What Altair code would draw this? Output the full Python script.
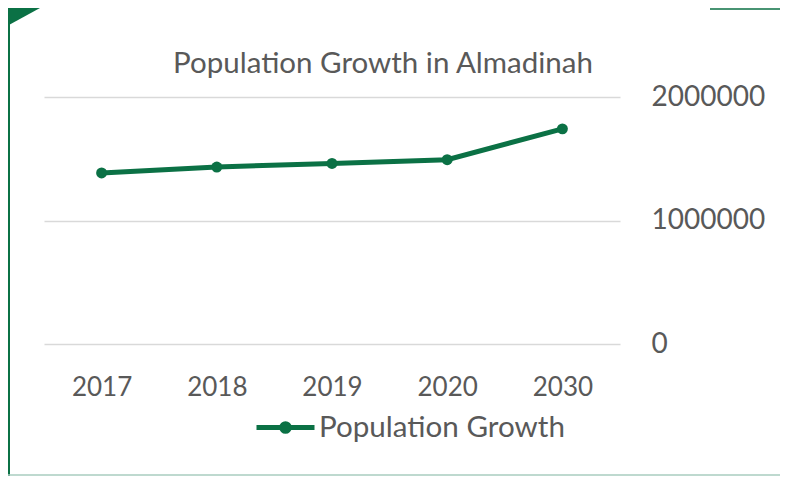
import altair as alt
import pandas as pd

# ---- data ----
years = ["2017", "2018", "2019", "2020", "2030"]
population = [1385000, 1433000, 1462000, 1492000, 1742000]
series_name = "Population Growth"
y_ticks = [0, 1000000, 2000000]
title_text = "Population Growth in Almadinah"

GREEN = "#0b7145"
TEXT = "#595959"
GRID = "#d9d9d9"
FONT = "Lato"

df = pd.DataFrame({
    "year": years,
    "population": population,
    "series": [series_name] * len(years),
})

legend_path = ("M-1,0H1M0.13,0A0.13,0.13,0,1,1,-0.13,0"
               "A0.13,0.13,0,1,1,0.13,0Z")

x_enc = alt.X("year:N", sort=years, title=None,
              scale=alt.Scale(padding=0.5),
              axis=alt.Axis(domain=False, ticks=False, tickSize=0, grid=False,
                            labelAngle=0, labelPadding=51,
                            labelBaseline="alphabetic", labelFontSize=26,
                            labelColor=TEXT, labelFont=FONT))
y_enc = alt.Y("population:Q", title=None,
              scale=alt.Scale(domain=[0, 2000000]),
              axis=alt.Axis(orient="right", values=y_ticks, format="d",
                            domain=False, ticks=False, tickSize=0,
                            labelPadding=31, labelAlign="left",
                            labelBaseline="middle", labelFontSize=28,
                            labelColor=TEXT, labelFont=FONT,
                            grid=True, gridColor=GRID, gridWidth=1.5))
color_enc = alt.Color("series:N",
                      scale=alt.Scale(domain=[series_name], range=[GREEN]),
                      legend=alt.Legend(title=None, orient="none",
                                        legendX=210, legendY=299,
                                        symbolType=legend_path,
                                        symbolSize=3364,
                                        symbolStrokeWidth=5,
                                        symbolFillColor=GREEN,
                                        symbolStrokeColor=GREEN,
                                        labelFontSize=29.6, labelFont=FONT,
                                        labelColor=TEXT, labelOffset=2,
                                        labelLimit=500, padding=0))

base = alt.Chart(df).encode(x=x_enc, y=y_enc, color=color_enc)
line = base.mark_line(strokeWidth=5)
points = base.mark_point(filled=True, size=120, opacity=1)

one = alt.Data(values=[{}])
title_mark = alt.Chart(alt.Data(values=[{"t": title_text}])).mark_text(
    align="center", baseline="alphabetic", fontSize=29.5, font=FONT,
    color=TEXT).encode(x=alt.value(339), y=alt.value(-24), text="t:N")
tri = alt.Chart(one).mark_point(shape="M-1,-1L1,-1L-1,0.1Z", filled=True,
                                color=GREEN, size=1024, opacity=1,
                                strokeWidth=0).encode(
    x=alt.value(-20), y=alt.value(-73))
left_line = alt.Chart(one).mark_rule(color=GREEN, strokeWidth=2).encode(
    x=alt.value(-35), y=alt.value(-89), y2=alt.value(379))
top_line = alt.Chart(one).mark_rule(color=GREEN, strokeWidth=1.5).encode(
    x=alt.value(666), x2=alt.value(736), y=alt.value(-88))
bottom_line = alt.Chart(one).mark_rule(color="#a9cdbf", strokeWidth=1.5).encode(
    x=alt.value(-36), x2=alt.value(736), y=alt.value(378))

chart = alt.layer(line, points, title_mark, tri, left_line, top_line,
                  bottom_line).properties(
    width=576, height=247,
    padding={"left": 36, "top": 89, "right": 160, "bottom": 132},
    autosize="none",
    background="white",
).configure_view(stroke=None)

chart.save("out.html", embed_options={"renderer": "svg", "actions": False})
